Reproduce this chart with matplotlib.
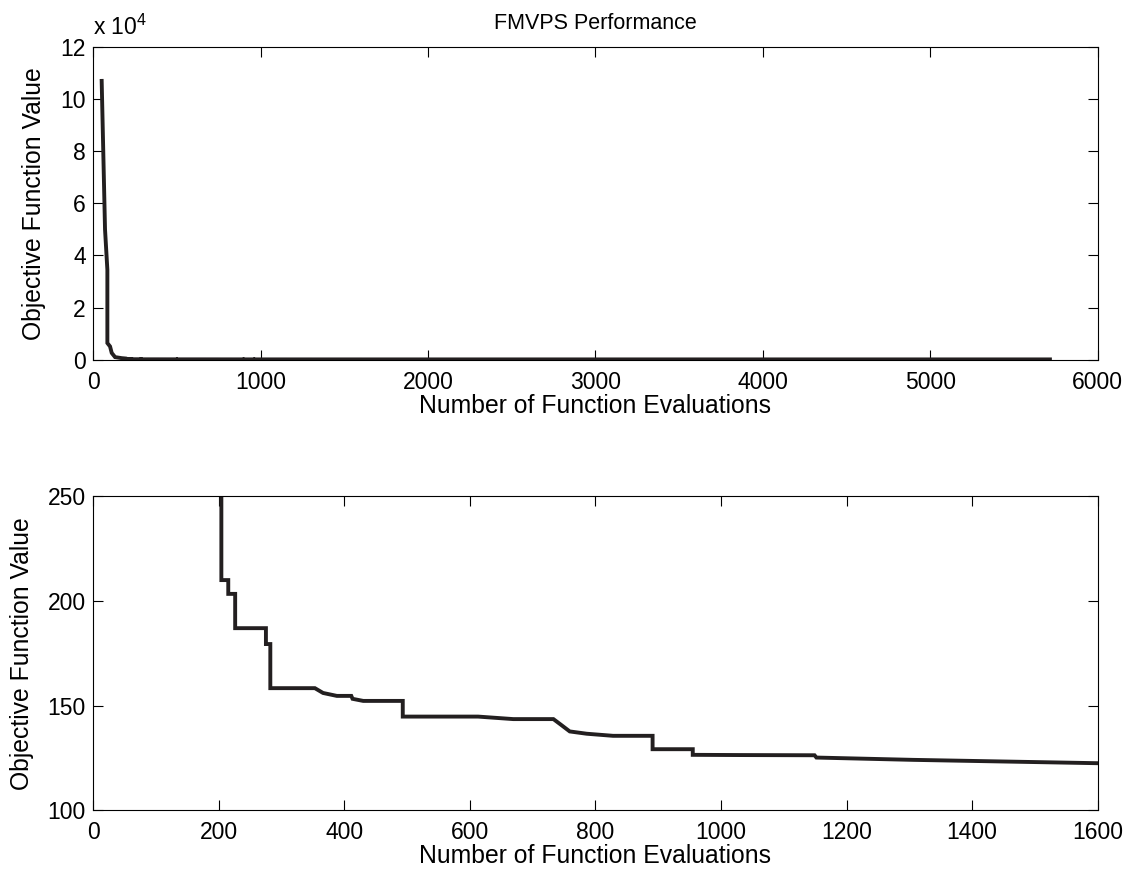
import matplotlib
matplotlib.use("Agg")
import matplotlib.pyplot as plt
from matplotlib.ticker import FuncFormatter

plt.rcParams['font.family'] = ['Liberation Sans', 'DejaVu Sans']

# best objective value found so far vs number of function evaluations
evals = [50, 70, 84, 84, 100, 110, 130, 170, 196, 204, 204, 215, 215, 226, 226,
         275, 275, 282, 282, 353, 366, 388, 411, 413, 430, 493, 493, 613, 669,
         733, 745, 759, 786, 828, 891, 891, 955, 955, 1030, 1149, 1152, 1306,
         1600, 5715]
best = [107000, 50000, 34500, 6400, 5100, 2600, 1000, 600, 450, 255, 210, 210,
        203.4, 203.4, 187.0, 187.0, 179.4, 179.4, 158.3, 158.3, 156.0, 154.6,
        154.6, 153.2, 152.2, 152.2, 144.7, 144.7, 143.5, 143.5, 140.8, 137.6,
        136.5, 135.5, 135.5, 129.1, 129.1, 126.4, 126.3, 126.2, 125.1, 124.0,
        122.4, 121.0]

top_xticks = [0, 1000, 2000, 3000, 4000, 5000, 6000]
top_yticks = [0, 20000, 40000, 60000, 80000, 100000, 120000]
bot_xticks = [0, 200, 400, 600, 800, 1000, 1200, 1400, 1600]
bot_yticks = [100, 150, 200, 250]

line_color = '#231f20'
fs_tick = 16.5
fs_label = 17.8

fig = plt.figure(figsize=(11.31, 8.71), dpi=100)
ax1 = fig.add_axes([0.0825, 0.587, 0.888, 0.359])
ax2 = fig.add_axes([0.0825, 0.070, 0.888, 0.360])

for ax in (ax1, ax2):
    ax.plot(evals, best, color=line_color, lw=2.8, solid_joinstyle='miter')
    ax.tick_params(direction='in', length=7, width=0.8, top=True, right=True,
                   labelsize=fs_tick, colors='black')
    ax.tick_params(axis='x', pad=8)
    ax.tick_params(axis='y', pad=5.5)
    for s in ax.spines.values():
        s.set_linewidth(0.8)
    ax.set_xlabel('Number of Function Evaluations', fontsize=fs_label, labelpad=0)
    ax.set_ylabel('Objective Function Value', fontsize=fs_label)

# top panel: full run
ax1.set_xlim(0, 6000)
ax1.set_ylim(0, 120000)
ax1.set_xticks(top_xticks)
ax1.set_yticks(top_yticks)
ax1.yaxis.set_major_formatter(FuncFormatter(lambda v, p: '%g' % (v / 1e4)))
ax1.annotate('x 10$^{\\mathregular{4}}$', xy=(0, 1), xycoords='axes fraction',
             xytext=(0, 8.4), textcoords='offset points', ha='left', va='baseline',
             fontsize=fs_tick)
ax1.set_title('FMVPS Performance', fontsize=15.5, pad=13)
ax1.yaxis.set_label_coords(-0.047, 0.5)

# bottom panel: zoom on first 1600 evaluations
ax2.set_xlim(0, 1600)
ax2.set_ylim(100, 250)
ax2.set_xticks(bot_xticks)
ax2.set_yticks(bot_yticks)
ax2.yaxis.set_label_coords(-0.059, 0.5)

fig.savefig('out.png', dpi=100)
